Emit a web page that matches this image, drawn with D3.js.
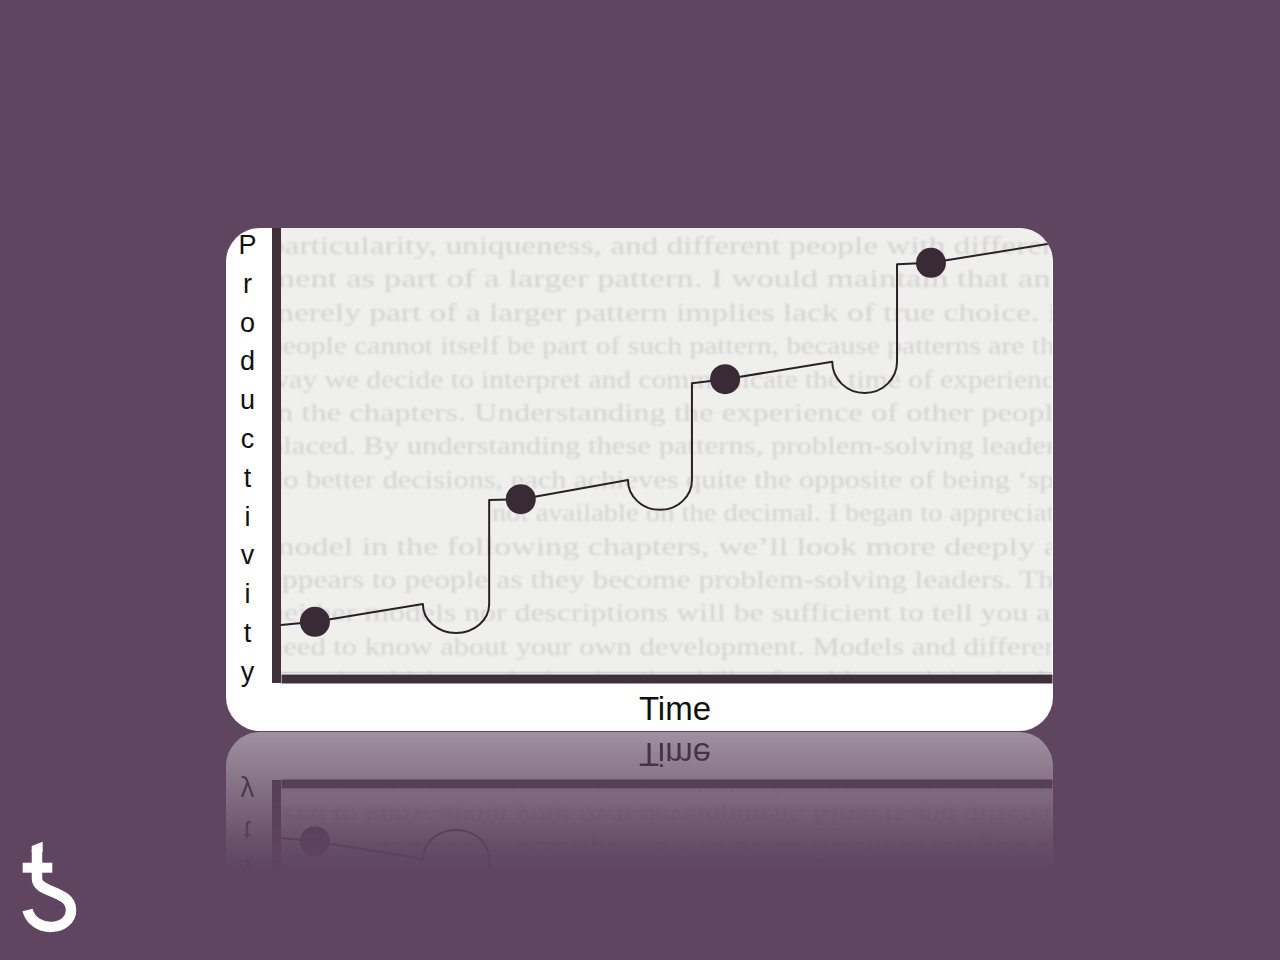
<!DOCTYPE html>
<html>
<head>
<meta charset="utf-8">
<script src="https://cdnjs.cloudflare.com/ajax/libs/d3/7.8.5/d3.min.js"></script>
<style>
  html, body { margin: 0; padding: 0; background: #5f4560; }
  svg { display: block; }
</style>
</head>
<body>
<script>
// DATA - time and productivity on a 0..100 scale

// each stage: a slowly rising plateau
const stageStartTime  = [0, 27.0, 53.3, 79.9];
const stageStartLevel = [11.0, 39.0, 65.2, 91.9];
const stageEndTime    = [18.4, 45.0, 71.5, 100];
const stageEndLevel   = [15.7, 43.5, 70.0, 96.6];

// the dip before each jump
const dipLowLevel = [9.2, 36.8, 63.0];

// the big dots
const milestoneTime  = [4.4, 31.1, 57.6, 84.3];
const milestoneLevel = [11.7, 39.2, 66.1, 92.2];

const yLabel = 'Productivity';
const xLabel = 'Time';

// faint print showing through the scanned page
const scanLines = [
  'particularity, uniqueness, and different people with different',
  'ment as part of a larger pattern. I would maintain that any',
  'merely part of a larger pattern implies lack of true choice. It',
  'people cannot itself be part of such pattern, because patterns are the',
  'way we decide to interpret and communicate the time of experience',
  'in the chapters. Understanding the experience of other people',
  'placed. By understanding these patterns, problem-solving leaders',
  'do better decisions, each achieves quite the opposite of being \u2018spa',
  'not   available   on   the   decimal.   I   began   to   appreciate',
  'model in the following chapters, we\u2019ll look more deeply at',
  'appears to people as they become problem-solving leaders. The',
  'neither models nor descriptions will be sufficient to tell you all',
  'need to know about your own development. Models and different',
  'ways in which people develop the skills of problem-solving leader'
];

// SETUP
const width = 1280, height = 960;
const card = {x: 226, y: 228, w: 827, h: 503, r: 34};

const svg = d3.select('body')
              .append('svg')
              .attr('width', width)
              .attr('height', height);

svg.append('rect')
   .attr('width', width)
   .attr('height', height)
   .attr('fill', '#5f4560');

// scales
const x = d3.scaleLinear().domain([0, 100]).range([281, 1052]);
const y = d3.scaleLinear().domain([0, 100]).range([674, 228]);

const defs = svg.append('defs');

defs.append('clipPath').attr('id', 'cardClip')
    .append('rect')
    .attr('x', card.x).attr('y', card.y)
    .attr('width', card.w).attr('height', card.h)
    .attr('rx', card.r).attr('ry', card.r);

defs.append('clipPath').attr('id', 'scanClip')
    .append('rect')
    .attr('x', x(0)).attr('y', y(100))
    .attr('width', x(100) - x(0)).attr('height', y(0) - y(100));

defs.append('filter').attr('id', 'soft')
    .append('feGaussianBlur').attr('stdDeviation', 0.9);

const grad = defs.append('linearGradient')
                 .attr('id', 'fadeGrad')
                 .attr('gradientUnits', 'userSpaceOnUse')
                 .attr('x1', 0).attr('y1', 733)
                 .attr('x2', 0).attr('y2', 872);
[[0, 0.40], [0.48, 0.2], [0.77, 0.07], [1, 0]].forEach(s => {
  grad.append('stop')
      .attr('offset', s[0])
      .attr('stop-color', '#fff')
      .attr('stop-opacity', s[1]);
});

defs.append('mask').attr('id', 'fade')
    .attr('maskUnits', 'userSpaceOnUse')
    .attr('x', 0).attr('y', 0).attr('width', width).attr('height', height)
    .append('rect')
    .attr('x', 0).attr('y', 731)
    .attr('width', width).attr('height', height - 731)
    .attr('fill', 'url(#fadeGrad)');

// CARD
const graph = svg.append('g')
                 .attr('id', 'card')
                 .attr('clip-path', 'url(#cardClip)');

graph.append('rect')
     .attr('x', card.x).attr('y', card.y)
     .attr('width', card.w).attr('height', card.h)
     .attr('fill', '#ffffff');

// scanned page
graph.append('rect')
     .attr('x', x(0)).attr('y', y(100))
     .attr('width', x(100) - x(0)).attr('height', y(0) - y(100))
     .attr('fill', '#efefee');

graph.append('g')
     .attr('clip-path', 'url(#scanClip)')
     .append('g')
     .attr('filter', 'url(#soft)')
     .selectAll('text')
     .data(scanLines)
     .enter()
     .append('text')
     .attr('x', (d, i) => i === 8 ? 492 : 268)
     .attr('y', (d, i) => 254 + i * 33.4)
     .attr('textLength', (d, i) => i === 8 ? 575 : 800)
     .attr('lengthAdjust', 'spacingAndGlyphs')
     .style('font-family', '"Liberation Serif", "DejaVu Serif", serif')
     .style('font-size', '25px')
     .attr('fill', '#d3d3d3')
     .text(d => d);

graph.append('line')
     .attr('x1', x(0)).attr('x2', x(100))
     .attr('y1', y(0) - 1.5).attr('y2', y(0) - 1.5)
     .attr('stroke', '#cfd0d6')
     .attr('stroke-width', 1.5);

// axes: thick bars without ticks
const axisColor = '#3f3039';
const groupeX = graph.append('g')
                     .attr('transform', `translate(0, ${y(0) + 4.5})`)
                     .call(d3.axisBottom(x).tickValues([]).tickSizeOuter(0));
const groupeY = graph.append('g')
                     .attr('transform', `translate(${x(0) - 4.5}, 0)`)
                     .call(d3.axisLeft(y).tickValues([]).tickSizeOuter(0));
groupeY.select('.domain')
       .attr('d', `M0,${y(0) + 9}V${y(100)}`);
[groupeX, groupeY].forEach(g => {
  g.select('.domain')
   .attr('stroke', axisColor)
   .attr('stroke-width', 9)
   .attr('fill', 'none');
});

// productivity curve
let d = '';
stageStartTime.forEach((t, i) => {
  d += (i === 0 ? 'M' : 'L') + x(t) + ',' + y(stageStartLevel[i]);
  d += 'L' + x(milestoneTime[i]) + ',' + y(milestoneLevel[i]);
  const x1 = x(stageEndTime[i]), y1 = y(stageEndLevel[i]);
  d += 'L' + x1 + ',' + y1;
  if (i < dipLowLevel.length) {
    const xr = x(stageStartTime[i + 1]);
    const rx = (xr - x1) / 2;
    const ry = y(dipLowLevel[i]) - y1;
    d += `A${rx},${ry} 0 0 0 ${xr},${y1}`;
  }
});

graph.append('path')
     .attr('d', d)
     .attr('fill', 'none')
     .attr('stroke', '#2a2128')
     .attr('stroke-width', 2)
     .attr('stroke-linejoin', 'round');

graph.selectAll('circle')
     .data(milestoneTime)
     .enter()
     .append('circle')
     .attr('cx', t => x(t))
     .attr('cy', (t, i) => y(milestoneLevel[i]))
     .attr('r', 15)
     .attr('fill', '#3a2a35');

// labels
graph.append('g')
     .selectAll('text')
     .data(yLabel.split(''))
     .enter()
     .append('text')
     .attr('x', 247.5)
     .attr('y', (c, i) => 254 + i * 38.8)
     .attr('text-anchor', 'middle')
     .style('font-family', '"Liberation Sans", Arial, sans-serif')
     .style('font-size', '27px')
     .attr('fill', '#111')
     .text(c => c);

graph.append('text')
     .attr('x', 675)
     .attr('y', 720)
     .attr('text-anchor', 'middle')
     .style('font-family', '"Liberation Sans", Arial, sans-serif')
     .style('font-size', '33px')
     .attr('fill', '#111')
     .text(xLabel);

// REFLECTION
svg.append('g')
   .attr('mask', 'url(#fade)')
   .append('use')
   .attr('href', '#card')
   .attr('transform', `translate(0, ${2 * 731.5}) scale(1, -1)`);

// LOGO
const logo = svg.append('g').attr('fill', 'none').attr('stroke', '#fff');
logo.append('path')
    .attr('d', 'M37,850 V879 C37,893 71,890 71,910 C71,931 34,934 27.5,910')
    .attr('stroke-width', 10.5);
logo.append('polygon')
    .attr('points', '31.7,846 42.7,841.7 42.7,852 31.7,852')
    .attr('fill', '#fff').attr('stroke', 'none');
logo.append('rect')
    .attr('x', 22.7).attr('y', 862.7)
    .attr('width', 29.6).attr('height', 10)
    .attr('fill', '#fff').attr('stroke', 'none');
</script>
</body>
</html>
